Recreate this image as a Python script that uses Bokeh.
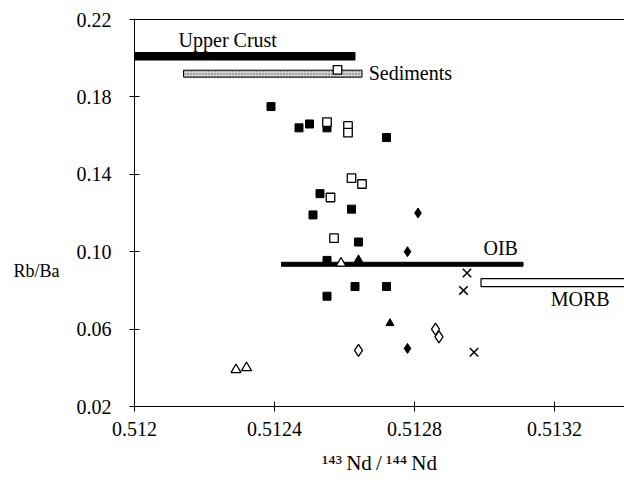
from bokeh.plotting import figure
from bokeh.models import Range1d, FixedTicker, LinearAxis, Label
from bokeh.embed import file_html
from bokeh.resources import INLINE

# ---- data ----
x_ticks = [0.512, 0.5124, 0.5128, 0.5132]
x_tick_labels = ["0.512", "0.5124", "0.5128", "0.5132"]
y_ticks = [0.02, 0.06, 0.10, 0.14, 0.18, 0.22]
y_tick_labels = ["0.02", "0.06", "0.10", "0.14", "0.18", "0.22"]
x_title = "\u00b9\u2074\u00b3\u2009Nd\u2009/\u2009\u00b9\u2074\u2074\u2009Nd"
y_title = "Rb/Ba"

# reference fields (horizontal ranges)
field_names = ["Upper Crust", "Sediments", "OIB", "MORB"]
field_left = [0.5120, 0.51214, 0.51242, 0.51299]
field_right = [0.51263, 0.51265, 0.51311, 0.51345]
field_y = [0.201, 0.192, 0.0935, 0.084]

filled_sq_x = [0.51239, 0.51247, 0.51250, 0.51255, 0.51272, 0.51253, 0.51251,
               0.51262, 0.51264, 0.51255, 0.51263, 0.51255, 0.51272]
filled_sq_y = [0.175, 0.164, 0.166, 0.164, 0.159, 0.130, 0.119,
               0.122, 0.105, 0.0955, 0.082, 0.077, 0.082]

open_sq_x = [0.51258, 0.51255, 0.51261, 0.51261, 0.51262, 0.51265, 0.51256, 0.51257]
open_sq_y = [0.194, 0.167, 0.165, 0.1615, 0.138, 0.135, 0.128, 0.107]

filled_dia_x = [0.51281, 0.51278, 0.51278]
filled_dia_y = [0.120, 0.100, 0.050]

open_dia_x = [0.51264, 0.51286, 0.51287]
open_dia_y = [0.049, 0.060, 0.056]

filled_tri_x = [0.51264, 0.51273]
filled_tri_y = [0.096, 0.063]

open_tri_x = [0.51259, 0.51229, 0.51232]
open_tri_y = [0.094, 0.039, 0.040]

cross_x = [0.51295, 0.51294, 0.51297]
cross_y = [0.089, 0.080, 0.048]

FONT = "Liberation Serif"

p = figure(width=624, height=498, output_backend="svg", toolbar_location=None,
           x_range=Range1d(0.512, 0.5134), y_range=Range1d(0.02, 0.22),
           min_border_left=134, min_border_right=0, min_border_top=19,
           min_border_bottom=92)
p.outline_line_color = None
p.xgrid.visible = False
p.ygrid.visible = False
p.background_fill_color = "white"
p.border_fill_color = "white"

for ax, ticks, labels in ((p.xaxis[0], x_ticks, x_tick_labels), (p.yaxis[0], y_ticks, y_tick_labels)):
    ax.ticker = FixedTicker(ticks=ticks)
    ax.major_label_overrides = {t: l for t, l in zip(ticks, labels)}
    ax.major_tick_in = 5
    ax.major_tick_out = 5
    ax.minor_tick_line_color = None
    ax.axis_line_color = "black"
    ax.major_tick_line_color = "black"
    ax.major_label_text_font = FONT
    ax.major_label_text_font_size = "20px"
    ax.major_label_text_color = "black"
p.xaxis[0].major_label_standoff = 10
p.yaxis[0].major_label_standoff = 18

# x-axis title
xa = p.xaxis[0]
xa.axis_label = x_title
xa.axis_label_text_font = FONT
xa.axis_label_text_font_size = "21px"
xa.axis_label_text_font_style = "normal"
xa.axis_label_text_color = "black"
xa.axis_label_standoff = 12

# y-axis title: horizontal text placed by a second, line-less left axis
y_title_pos = 0.0898
ya2 = LinearAxis(ticker=FixedTicker(ticks=[y_title_pos]),
                 major_label_overrides={y_title_pos: y_title},
                 axis_line_color=None, major_tick_line_color=None,
                 major_tick_in=0, major_tick_out=0, minor_tick_line_color=None,
                 major_label_text_font=FONT, major_label_text_font_size="18px",
                 major_label_text_color="black", major_label_standoff=14)
p.add_layout(ya2, "left")

top = LinearAxis(ticker=FixedTicker(ticks=[]), major_label_text_font_size="0px",
                 major_tick_in=0, major_tick_out=0, minor_tick_line_color=None,
                 axis_line_color="black", major_label_standoff=0)
p.add_layout(top, "above")

# fields
cx = [(l + r) / 2 for l, r in zip(field_left, field_right)]
wd = [r - l for l, r in zip(field_left, field_right)]
p.rect(x=cx[0], y=field_y[0], width=wd[0], height=7.5, height_units="screen",
       fill_color="black", line_color="black")
p.rect(x=cx[1], y=field_y[1], width=wd[1], height=7, height_units="screen",
       fill_color="#d4d4d4", line_color="black", line_width=1,
       hatch_pattern="dot", hatch_color="#555555", hatch_scale=3, hatch_weight=0.8)
p.rect(x=cx[2], y=field_y[2], width=wd[2], height=4, height_units="screen",
       fill_color="black", line_color="black")
p.rect(x=cx[3], y=field_y[3], width=wd[3], height=8, height_units="screen",
       fill_color="white", line_color="black", line_width=1.2)

# points
p.scatter(filled_sq_x, filled_sq_y, marker="square", size=8,
          fill_color="black", line_color="black")
p.scatter(open_sq_x, open_sq_y, marker="square", size=8.5,
          fill_color="white", line_color="black", line_width=1.3)
p.scatter(filled_dia_x, filled_dia_y, marker="diamond", size=10,
          fill_color="black", line_color="black")
p.scatter(open_dia_x, open_dia_y, marker="diamond", size=12,
          fill_color="white", line_color="black", line_width=1.3)
p.scatter(filled_tri_x, filled_tri_y, marker="triangle", size=8,
          fill_color="black", line_color="black")
p.scatter(open_tri_x, open_tri_y, marker="triangle", size=10,
          fill_color="white", line_color="black", line_width=1.3)
p.scatter(cross_x, cross_y, marker="x", size=12,
          line_color="black", line_width=1.5)

# field labels
for name, xx, yy in ((field_names[0], 0.512126, 0.2096),
                     (field_names[1], 0.512669, 0.1926),
                     (field_names[2], 0.512997, 0.1021),
                     (field_names[3], 0.513189, 0.0758)):
    p.add_layout(Label(x=xx, y=yy, text=name, text_font=FONT, text_font_size="20px",
                       text_color="black", text_baseline="alphabetic", text_align="left"))

open("out.html", "w").write(file_html(p, INLINE))
